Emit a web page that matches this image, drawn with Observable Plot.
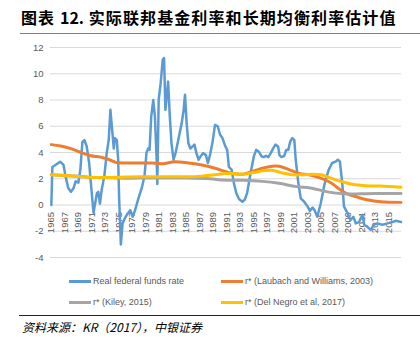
<!DOCTYPE html>
<html>
<head>
<meta charset="utf-8">
<script src="https://cdn.jsdelivr.net/npm/d3@7"></script>
<script src="https://cdn.jsdelivr.net/npm/@observablehq/plot@0.6"></script>
<style>
  html, body { margin: 0; padding: 0; background: #fff; }
  #page { position: relative; width: 420px; height: 348px; overflow: hidden; font-family: "Liberation Sans", Arial, sans-serif; }
  #title { position: absolute; left: 21px; top: 6px; font-family: "Noto Sans CJK SC", sans-serif; font-weight: bold; font-size: 16px; letter-spacing: 1.1px; color: #000; white-space: nowrap; line-height: 22px; }
  #title .num { letter-spacing: 0; }
  #titleRule { position: absolute; left: 20px; right: 0; top: 33px; height: 0; border-top: 1.5px solid #808080; }
  #chart { position: absolute; left: 0; top: 40px; }
  .leg { position: absolute; font-size: 9px; color: #595959; white-space: nowrap; line-height: 12px; }
  .sw { position: absolute; width: 22px; height: 3px; }
  #srcRule { position: absolute; left: 19px; right: 0; top: 315px; height: 0; border-top: 1px solid #222; }
  #source { position: absolute; left: 22px; top: 318px; font-family: "Noto Sans CJK SC", sans-serif; font-style: italic; font-size: 12px; color: #000; white-space: nowrap; line-height: 17px; }
</style>
</head>
<body>
<div id="page">
  <div id="title">图表 <span class="num">12.</span> 实际联邦基金利率和长期均衡利率估计值</div>
  <div id="titleRule"></div>
  <div id="chart"></div>
  <div id="legend"></div>
  <div id="srcRule"></div>
  <div id="source">资料来源：KR（2017），中银证券</div>
</div>
<script>
// ---- data ----
const fedYears = [1965.0,1965.15,1965.6,1966.3,1966.8,1967.1,1967.5,1967.9,1968.3,1968.6,1969.0,1969.3,1969.6,1969.9,1970.25,1970.6,1970.85,1971.25,1971.45,1971.75,1971.95,1972.2,1972.45,1972.85,1973.2,1973.5,1973.75,1974.05,1974.25,1974.4,1974.7,1974.9,1975.05,1975.3,1975.55,1975.9,1976.3,1976.7,1977.05,1977.4,1977.9,1978.4,1978.8,1979.1,1979.35,1979.55,1979.8,1980.1,1980.35,1980.6,1980.7,1980.9,1981.2,1981.5,1981.7,1981.9,1982.1,1982.3,1982.55,1982.8,1983.1,1983.4,1983.8,1984.3,1984.6,1984.8,1985.05,1985.3,1985.6,1985.9,1986.2,1986.5,1986.8,1987.1,1987.5,1987.9,1988.2,1988.5,1988.85,1989.25,1989.65,1990.0,1990.35,1990.75,1991.05,1991.3,1991.7,1992.05,1992.4,1992.8,1993.3,1993.65,1994.0,1994.5,1995.0,1995.35,1995.75,1996.15,1996.5,1996.8,1997.15,1997.5,1997.85,1998.2,1998.6,1998.8,1999.1,1999.5,1999.8,2000.1,2000.4,2000.7,2001.0,2001.2,2001.6,2001.95,2002.45,2002.95,2003.3,2003.7,2004.0,2004.4,2004.9,2005.5,2006.1,2006.6,2007.1,2007.45,2007.75,2008.1,2008.35,2008.85,2009.3,2009.75,2010.1,2010.6,2011.1,2011.35,2011.8,2012.3,2012.8,2013.3,2014.05,2014.8,2015.55,2016.05,2016.8];
const fedValues = [0,2.9,3.05,3.3,3.05,2.2,1.3,1.0,1.3,1.8,1.7,2.7,4.8,4.95,4.45,3.2,1.7,-0.6,0,0.9,1.0,0.1,1.15,2.2,3.95,4.95,7.25,5.5,4.3,5.1,4.95,3.45,0.4,-3.0,-1.4,-1.0,-0.65,-0.4,-0.9,-0.4,0.5,1.3,2.2,4.0,4.3,4.2,6.75,8.0,6.7,3.45,1.6,8.0,9.3,11.07,11.2,7.25,8.3,9.4,6.75,4.7,3.45,3.95,4.95,6.2,7.25,8.4,6.2,4.7,4.3,4.45,4.6,3.95,3.45,3.7,3.95,3.8,3.2,3.8,4.7,6.1,6.0,5.35,5.1,4.5,4.2,2.9,2.7,1.65,0.9,0.45,0.25,0.4,0.9,2.4,3.7,4.2,4.05,3.7,3.65,3.75,3.65,3.95,4.3,4.6,4.45,3.8,3.65,3.75,4.2,4.2,4.85,5.1,4.95,3.45,1.65,0.5,0.25,-0.1,-0.45,-0.2,-0.4,-0.9,0.1,1.65,2.7,3.2,3.3,3.45,3.3,1.65,-0.1,-0.6,-1.15,-0.9,-1.4,-1.3,-0.75,-1.5,-1.65,-1.9,-1.5,-1.4,-1.5,-1.4,-1.3,-1.2,-1.3];

const lwYears = [1965,1966.4,1967.9,1969.35,1970.85,1972.3,1973.6,1974.55,1975.8,1977.8,1979.8,1981.5,1983.3,1985.3,1987.3,1989.25,1990.75,1991.8,1993.3,1994.75,1996.25,1997.7,1998.7,2000.2,2001.7,2003.2,2004.9,2006.4,2007.85,2008.85,2010.35,2011.8,2013.8,2016.8];
const lwValues = [4.6,4.5,4.3,4.0,3.75,3.65,3.45,3.25,3.2,3.2,3.2,3.15,3.3,3.2,3.05,2.8,2.55,2.4,2.35,2.55,2.8,2.95,2.95,2.7,2.4,2.3,2.05,1.7,1.15,0.85,0.6,0.4,0.25,0.2];

const kileyYears = [1965,1967,1969,1971,1973,1975,1977.8,1981,1983,1985,1988.5,1990.5,1993.5,1996.25,1998.7,2001.3,2003.4,2005.9,2008.35,2010.8,2013,2016.8];
const kileyValues = [2.3,2.25,2.2,2.1,2.1,2.05,2.05,2.05,2.05,2.05,2.0,1.9,1.88,1.8,1.65,1.4,1.3,1.0,0.85,0.85,0.87,0.88];

const dnYears = [1965,1967,1969.35,1971.7,1974.4,1977.8,1981,1985,1987.3,1989.25,1990.75,1991.8,1993.3,1994.75,1996.25,1997.7,1999.2,2000.7,2002.2,2003.7,2005.0,2006.4,2007.9,2009.4,2010.8,2012.3,2013.8,2016.8];
const dnValues = [2.3,2.25,2.15,2.1,2.1,2.15,2.15,2.15,2.2,2.3,2.4,2.4,2.35,2.45,2.6,2.65,2.45,2.3,2.3,2.35,2.3,2.05,1.8,1.6,1.5,1.45,1.45,1.35];

const seriesNames = ["Real federal funds rate", "r* (Laubach and Williams, 2003)", "r* (Kiley, 2015)", "r* (Del Negro et al, 2017)"];
const seriesColors = ["#5B9BD5", "#ED7D31", "#A5A5A5", "#FFC000"];
const yTicks = [-4, -2, 0, 2, 4, 6, 8, 10, 12];
const xTickYears = d3.range(1965, 2016, 2);

// ---- build tables ----
const toRows = (xs, vs) => xs.map((x, i) => ({x, v: vs[i]}));
const fed = toRows(fedYears, fedValues);
const lw = toRows(lwYears, lwValues);
const kiley = toRows(kileyYears, kileyValues);
const dn = toRows(dnYears, dnValues);

const plot = Plot.plot({
  width: 420,
  height: 225,
  marginLeft: 50,
  marginRight: 19,
  marginTop: 7,
  marginBottom: 8,
  style: {fontFamily: "Liberation Sans, Arial, sans-serif", background: "transparent"},
  x: {domain: [1964.875, 2016.875], axis: null},
  y: {domain: [-4, 12], axis: null},
  marks: [
    Plot.ruleY(yTicks, {stroke: "#d9d9d9", strokeWidth: 1}),
    Plot.text(yTicks, {x: 1964.875, y: d => d, text: d => String(d), textAnchor: "end", dx: -7, fill: "#595959", fontSize: 9.5}),
    Plot.text(xTickYears, {x: d => d, y: 0, text: d => String(d), rotate: -90, textAnchor: "end", dy: 7, fill: "#595959", fontSize: 9.5}),
    Plot.line(fed, {x: "x", y: "v", stroke: seriesColors[0], strokeWidth: 2.5, strokeLinejoin: "round"}),
    Plot.line(lw, {x: "x", y: "v", stroke: seriesColors[1], strokeWidth: 3, curve: "catmull-rom"}),
    Plot.line(kiley, {x: "x", y: "v", stroke: seriesColors[2], strokeWidth: 3, curve: "catmull-rom"}),
    Plot.line(dn, {x: "x", y: "v", stroke: seriesColors[3], strokeWidth: 3, curve: "catmull-rom"})
  ]
});
document.getElementById("chart").appendChild(plot);

// ---- legend ----
const legendPos = [[69, 281], [221, 281], [69, 302], [221, 302]];
const legend = document.getElementById("legend");
seriesNames.forEach((name, i) => {
  const [lx, ly] = legendPos[i];
  const sw = document.createElement("div");
  sw.className = "sw";
  sw.style.left = lx + "px";
  sw.style.top = (ly - 1.5) + "px";
  sw.style.background = seriesColors[i];
  legend.appendChild(sw);
  const t = document.createElement("div");
  t.className = "leg";
  t.style.left = (lx + 24) + "px";
  t.style.top = (ly - 6.5) + "px";
  t.textContent = name;
  legend.appendChild(t);
});
</script>
</body>
</html>
